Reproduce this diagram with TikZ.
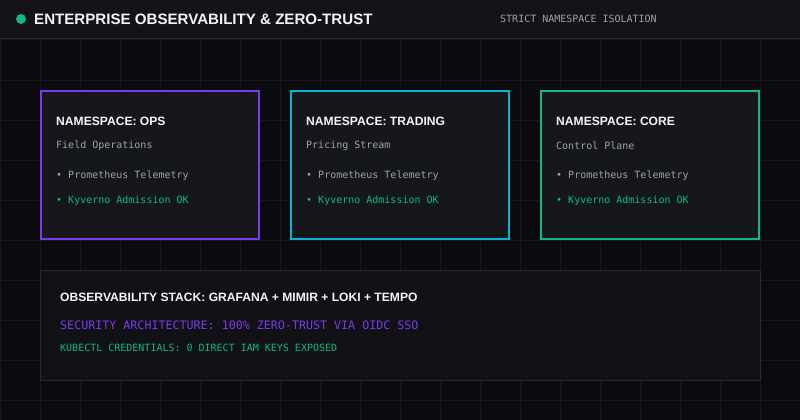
\documentclass[tikz,border=0pt]{standalone}
\usepackage{fontspec}
\setmainfont{Liberation Sans}
\newfontfamily\monofont{DejaVu Sans Mono}
\usepackage{xcolor}
\usepackage{tikz}
\definecolor{bgdark}{HTML}{0B0B0F}
\definecolor{hdrbg}{HTML}{131318}
\definecolor{gridc}{HTML}{17171C}
\definecolor{cardbg}{HTML}{16161D}
\definecolor{panelbg}{HTML}{111116}
\definecolor{edgec}{HTML}{2A2A33}
\definecolor{Cpur}{HTML}{7C3AED}
\definecolor{Ccya}{HTML}{06B6D4}
\definecolor{Cgrn}{HTML}{10B981}
\definecolor{txtw}{HTML}{F4F4F5}
\definecolor{txtg}{HTML}{9CA3AF}

\begin{document}
\begin{tikzpicture}[x=1pt,y=-1pt]
\tikzstyle{card}=[draw,line width=2pt,fill=cardbg,shape=rectangle,minimum width=218pt,minimum height=148pt,inner sep=0pt]
\tikzstyle{head}=[anchor=west,inner sep=0pt,text=txtw,font=\bfseries\fontsize{12.1}{14}\selectfont]
\tikzstyle{mono}=[anchor=west,inner sep=0pt,text=txtg,font=\monofont\fontsize{10}{12}\selectfont]

\useasboundingbox (0,0) rectangle (800,420);
\fill[bgdark] (0,0) rectangle (800,420);
\foreach \gx in {0,40,...,800} \draw[gridc,line width=1pt] (\gx,38) -- (\gx,420);
\foreach \gy in {40,80,...,400} \draw[gridc,line width=1pt] (0,\gy) -- (800,\gy);
%
\fill[hdrbg] (0,0) rectangle (800,38);
\draw[edgec,line width=1pt] (0,38.5) -- (800,38.5);
\node[circle,fill=Cgrn,minimum size=10pt,inner sep=0pt](dot) at (21,19){};
\node[head,font=\bfseries\fontsize{15.1}{18}\selectfont](title) at (34,19.5){ENTERPRISE OBSERVABILITY \& ZERO-TRUST};
\node[mono](iso) at (500,19){STRICT NAMESPACE ISOLATION};
%
\node[card,draw=Cpur](ops) at (150,165){};
\node[card,draw=Ccya](trading) at (400,165){};
\node[card,draw=Cgrn](core) at (650,165){};
%
\node[head](opsT) at (56,121.5){NAMESPACE: OPS};
\node[mono](opsS) at (56,146){Field Operations};
\node[mono](opsP) at (56,175.5){• Prometheus Telemetry};
\node[mono,text=Cgrn](opsK) at (56,200.5){• Kyverno Admission OK};
%
\node[head](trdT) at (306,121.5){NAMESPACE: TRADING};
\node[mono](trdS) at (306,146){Pricing Stream};
\node[mono](trdP) at (306,175.5){• Prometheus Telemetry};
\node[mono,text=Cgrn](trdK) at (306,200.5){• Kyverno Admission OK};
%
\node[head](corT) at (556,121.5){NAMESPACE: CORE};
\node[mono](corS) at (556,146){Control Plane};
\node[mono](corP) at (556,175.5){• Prometheus Telemetry};
\node[mono,text=Cgrn](corK) at (556,200.5){• Kyverno Admission OK};
%
\node[draw=edgec,line width=1pt,fill=panelbg,minimum width=720pt,minimum height=110pt,inner sep=0pt](stack) at (400,325){};
\node[head](stackT) at (60,297.5){OBSERVABILITY STACK: GRAFANA + MIMIR + LOKI + TEMPO};
\node[mono,text=Cpur,font=\monofont\fontsize{11.67}{14}\selectfont](sec) at (60,325){SECURITY ARCHITECTURE: 100\% ZERO-TRUST VIA OIDC SSO};
\node[mono,text=Cgrn](kube) at (60,348){KUBECTL CREDENTIALS: 0 DIRECT IAM KEYS EXPOSED};
\end{tikzpicture}
\end{document}
